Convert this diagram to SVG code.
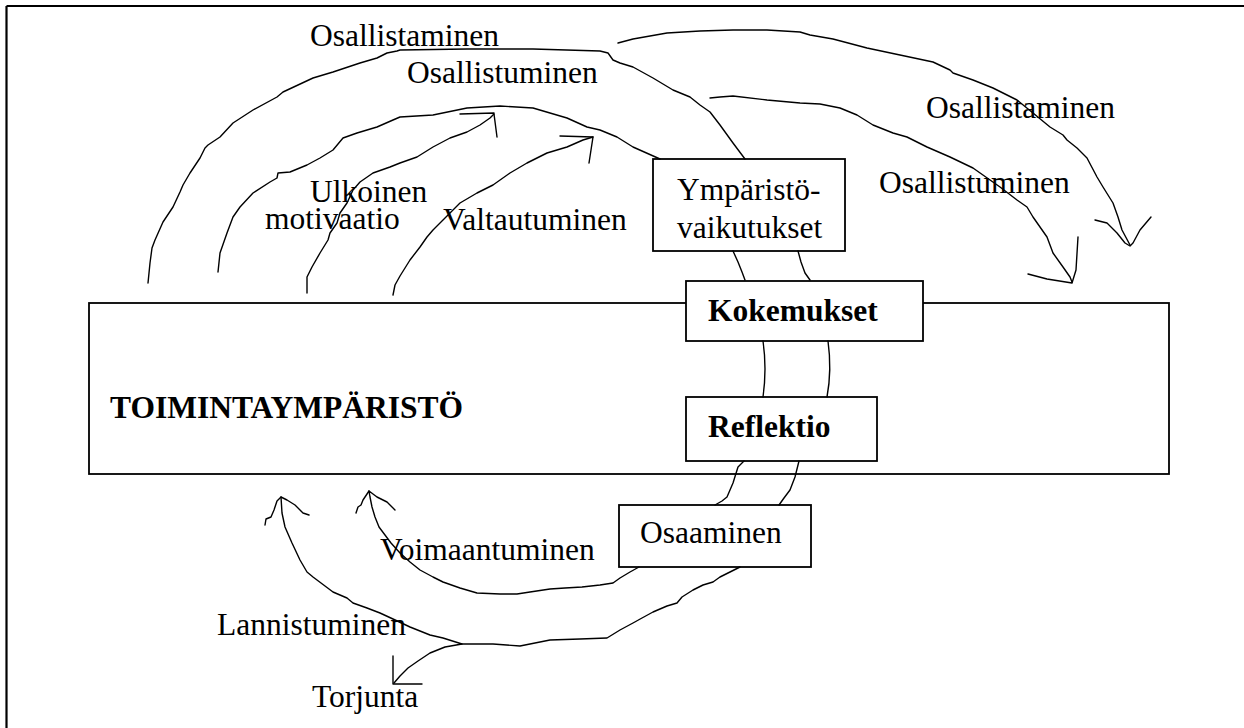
<svg xmlns="http://www.w3.org/2000/svg" width="1244" height="728" viewBox="0 0 1244 728">
  <style>
    text { font-family: "Liberation Serif", "Times New Roman", serif; font-size: 31.5px; fill: #000; }
    .b { font-weight: bold; }
    .box { fill: #fff; stroke: #000; stroke-width: 1.8; }
    .frame { fill: none; stroke: #000; stroke-width: 2.2; }
    .ink { fill: none; stroke: #000; stroke-width: 1.4; stroke-linejoin: round; stroke-linecap: round; }
  </style>

  <!-- page frame (top and left rules only) -->
  <g id="frame">
    <path class="frame" d="M6.5 6 H1244 M6.5 6 V728"/>
  </g>

  <!-- operating environment -->
  <g id="node-toimintaymparisto">
    <rect class="box" x="89" y="303" width="1080" height="171"/>
    <text class="b" x="110" y="418">TOIMINTAYMPÄRISTÖ</text>
  </g>

  <g id="node-ymparistovaikutukset">
    <rect class="box" x="653" y="159" width="192" height="92"/>
    <text x="677" y="200">Ympäristö-</text>
    <text x="677" y="238">vaikutukset</text>
  </g>

  <g id="node-kokemukset">
    <rect class="box" x="686" y="281" width="237" height="60"/>
    <text class="b" x="708" y="321">Kokemukset</text>
  </g>

  <g id="node-reflektio">
    <rect class="box" x="686" y="397" width="191" height="64"/>
    <text class="b" x="708" y="437">Reflektio</text>
  </g>

  <g id="node-osaaminen">
    <rect class="box" x="619" y="505" width="192" height="62"/>
    <text x="640" y="543">Osaaminen</text>
  </g>

  <!-- hand-drawn connectors -->
  <g id="connectors">
    <!-- box links -->
    <path class="ink" d="M733 251 L738 262 L742 272 L745 280"/>
    <path class="ink" d="M798 251 L801 262 L805 273 L810 280"/>
    <path class="ink" d="M763 341 Q767 369 763 397"/>
    <path class="ink" d="M828 341 Q832 370 827 397"/>
    <path class="ink" d="M744 461 L738 467 L733 483 L727 497 L722 501 L715 505"/>
    <path class="ink" d="M799 461 L795 477 L790 490 L784 498 L779 505"/>

    <!-- outer arc: Osallistaminen (left) -->
    <path class="ink" d="M148 283 L150 263 L152 248 L155 240 L163 222 L173 207 L180 192 L183 185 L190 173 L200 158 L205 148 L208 145 L220 137 L233 123 L253 110 L277 97 L283 92 L313 78 L333 72 L360 63 L377 58 L387 53 L397 51 L400 50 L467 49 L533 49 L600 51 L608 53 L613 60 L620 63 L633 67 L653 78 L673 90 L690 97 L700 105 L710 112 L720 125 L733 143 L745 159"/>
    <!-- second arc: Osallistuminen (left) -->
    <path class="ink" d="M218 272 L220 253 L227 233 L233 217 L240 207 L253 193 L270 182 L277 178 L278 173 L290 172 L307 165 L320 158 L333 150 L343 138 L357 133 L377 127 L393 120 L400 117 L433 115 L467 108 L500 106 L533 108 L567 118 L587 127 L600 130 L617 137 L633 147 L660 159"/>
    <!-- Ulkoinen motivaatio -->
    <path class="ink" d="M307 293 L307 277 L312 267 L320 253 L328 240 L330 233 L337 223 L340 213 L347 203 L353 190 L360 182 L373 173 L390 167 L400 163 L417 157 L433 147 L450 138 L467 132 L480 125 L490 118 L494 114"/>
    <path class="ink" d="M460 114 L494 113 M494 114 L497 137"/>
    <!-- Valtautuminen -->
    <path class="ink" d="M393 295 L395 285 L400 276 L410 260 L420 247 L427 237 L433 230 L443 220 L450 213 L460 203 L477 193 L493 185 L510 173 L527 163 L547 153 L567 147 L583 140 L593 137"/>
    <path class="ink" d="M560 136 L593 137 M593 137 L589 163"/>

    <!-- right arcs -->
    <path class="ink" d="M618 43 L633 39 L667 33 L700 31 L733 30 L767 30 L800 32 L810 35 L833 39 L867 48 L900 55 L933 62 L950 70 L953 73 L973 80 L993 88 L1017 100 L1033 113 L1050 127 L1063 135 L1067 140 L1077 148 L1087 158 L1097 177 L1103 187 L1113 203 L1118 217 L1122 230 L1130 245"/>
    <path class="ink" d="M1095 220 L1107 223 L1117 233 L1125 243 L1130 246 L1133 243 L1140 230 L1151 217"/>
    <path class="ink" d="M710 98 L720 97 L733 96 L767 100 L800 103 L820 104 L840 108 L857 115 L873 125 L893 133 L907 137 L927 147 L950 157 L973 168 L1000 187 L1017 200 L1027 207 L1033 217 L1047 237 L1053 253 L1063 267 L1070 277 L1072 282"/>
    <path class="ink" d="M1028 274 L1047 279 L1072 283 L1076 270 L1078 237"/>

    <!-- Voimaantuminen -->
    <path class="ink" d="M639 567 L630 572 L620 578 L613 583 L600 585 L582 587 L565 588 L550 589 L530 592 L517 594 L500 594 L477 593 L460 588 L443 582 L433 577 L420 570 L410 562 L400 553 L391 543 L385 535 L379 527 L375 517 L372 507 L370 497 L369 491"/>
    <path class="ink" d="M356 513 L358 507 L361 505 L363 500 L369 491 L377 497 L387 502 L395 510"/>

    <!-- Lannistuminen / Torjunta -->
    <path class="ink" d="M740 567 L730 572 L720 577 L713 582 L703 585 L693 590 L682 597 L677 603 L667 606 L653 612 L642 618 L633 623 L620 630 L607 638 L580 639 L550 640 L520 646 L493 644 L462 644 L443 638 L430 635 L410 627 L393 619 L380 613 L367 608 L353 603 L347 598 L333 592 L313 577 L307 572 L300 560 L292 543 L285 527 L282 513 L281 497"/>
    <path class="ink" d="M265 525 L266 519 L271 517 L274 510 L277 501 L281 497 L287 500 L295 505 L303 513 L309 515"/>
    <path class="ink" d="M462 644 L445 647 L430 653 L418 661 L408 668 L400 676 L394 683"/>
    <path class="ink" d="M393 656 L393 684 L422 684"/>
  </g>

  <!-- flow labels -->
  <g id="labels">
    <text x="310" y="46">Osallistaminen</text>
    <text x="407" y="83">Osallistuminen</text>
    <text x="926" y="118">Osallistaminen</text>
    <text x="879" y="193">Osallistuminen</text>
    <text x="310" y="202">Ulkoinen</text>
    <text x="265" y="229">motivaatio</text>
    <text x="443" y="230">Valtautuminen</text>
    <text x="380" y="560">Voimaantuminen</text>
    <text x="217" y="635">Lannistuminen</text>
    <text x="312" y="707">Torjunta</text>
  </g>
</svg>
